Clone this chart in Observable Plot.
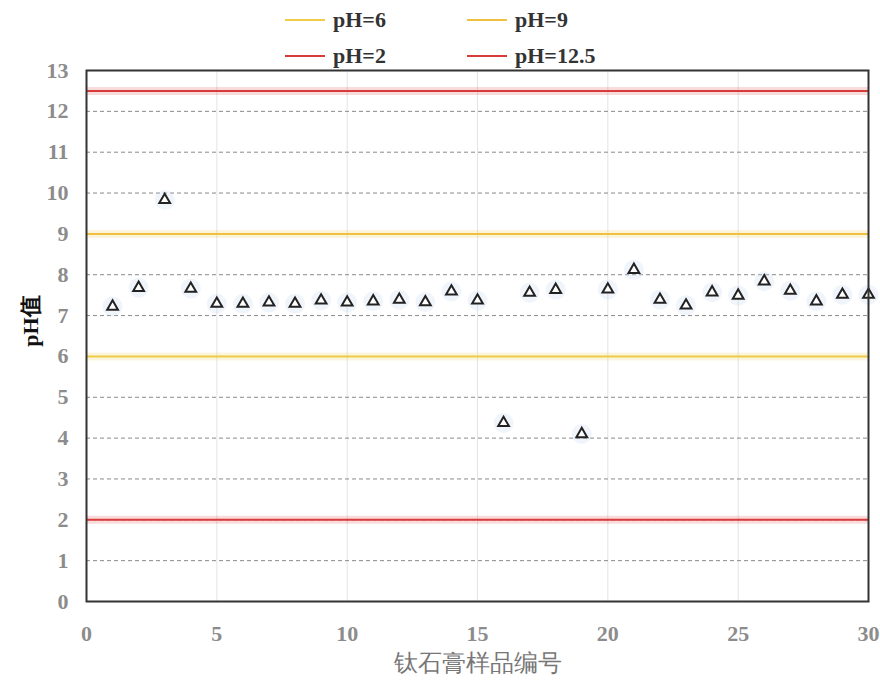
<!DOCTYPE html>
<html>
<head>
<meta charset="utf-8">
<script src="https://cdn.jsdelivr.net/npm/d3@7"></script>
<script src="https://cdn.jsdelivr.net/npm/@observablehq/plot@0.6"></script>
<style>
  body { margin: 0; background: #fff; width: 880px; height: 680px; overflow: hidden; }
  #legend { position: relative; z-index: 2; height: 50px; font-family: "Liberation Serif", serif; font-weight: bold; font-size: 22px; color: #333; }
  .item { position: absolute; display: flex; align-items: center; }
  .item span.sw { display: inline-block; width: 40px; height: 2px; margin-right: 8px; }
  #chart { position: relative; z-index: 1; }
  svg text { font-family: "Liberation Serif", serif; }
</style>
</head>
<body>
<div id="legend"></div>
<div id="chart"></div>
<script>
// ---- data ----
const samples = d3.range(1, 31);
const phValues = [7.22, 7.68, 9.83, 7.66, 7.29, 7.29, 7.32, 7.29, 7.37, 7.32,
                  7.35, 7.39, 7.33, 7.59, 7.37, 4.37, 7.56, 7.63, 4.10, 7.64,
                  8.12, 7.39, 7.25, 7.57, 7.49, 7.84, 7.61, 7.35, 7.51, 7.51];
const refNames = ["pH=6", "pH=9", "pH=2", "pH=12.5"];
const refValues = [6, 9, 2, 12.5];
const refColors = ["#f0cc48", "#f0c040", "#d93a3a", "#d93a3a"];
const xTicks = [0, 5, 10, 15, 20, 25, 30];
const yTicks = d3.range(0, 14);
const xTitle = "钛石膏样品编号";
const yTitle = "pH值";

const points = samples.map((s, i) => ({sample: s, ph: phValues[i]}));
const refs = refNames.map((n, i) => ({name: n, v: refValues[i], color: refColors[i]}));

// ---- legend ----
const legendPos = [[285, 20], [467, 20], [285, 56], [467, 56]];
const legend = document.getElementById("legend");
refs.forEach((r, i) => {
  const d = document.createElement("div");
  d.className = "item";
  d.style.left = legendPos[i][0] + "px";
  d.style.top = (legendPos[i][1] - 13) + "px";
  d.innerHTML = `<span class="sw" style="background:${r.color}"></span><span>${r.name}</span>`;
  legend.appendChild(d);
});

// ---- chart ----
const chart = Plot.plot({
  width: 880,
  height: 630,
  marginTop: 20,
  marginBottom: 79,
  marginLeft: 86,
  marginRight: 12,
  style: {background: "transparent"},
  x: {domain: [0, 30]},
  y: {domain: [0, 13]},
  marks: [
    Plot.gridX(xTicks.slice(1, -1), {stroke: "#e4e4e4", strokeOpacity: 1, strokeWidth: 1}),
    Plot.gridY(yTicks.slice(1, -1), {stroke: "#8a8a8a", strokeOpacity: 1, strokeDasharray: "4,3", strokeWidth: 1}),
    Plot.ruleY(refs, {y: "v", stroke: "color", strokeWidth: 8, strokeOpacity: 0.18}),
    Plot.ruleY(refs, {y: "v", stroke: "color", strokeWidth: 2}),
    Plot.dot(points, {x: "sample", y: "ph", r: 10, fill: "#c3d5f0", fillOpacity: 0.25, stroke: null}),
    Plot.dot(points, {x: "sample", y: "ph", symbol: "triangle", r: 4, fill: "white", stroke: "#222", strokeWidth: 2}),
    Plot.frame({stroke: "#333", strokeWidth: 2}),
    Plot.axisX(xTicks, {tickSize: 0, tickPadding: 24, fontSize: 22, fontWeight: "bold", fill: "#8c8c8c", label: null}),
    Plot.axisY(yTicks, {tickSize: 0, tickPadding: 18, fontSize: 22, fontWeight: "bold", fill: "#8c8c8c", label: null}),
    Plot.text([yTitle], {frameAnchor: "left", textAnchor: "middle", dx: -56, dy: -15, rotate: -90, text: d => d, fontSize: 22, fontWeight: "bold", fill: "#111"}),
    Plot.text([xTitle], {frameAnchor: "bottom", dy: 69, text: d => d, fontSize: 24, fill: "#777", fontFamily: "Noto Sans CJK SC"})
  ]
});
document.getElementById("chart").appendChild(chart);
</script>
</body>
</html>
